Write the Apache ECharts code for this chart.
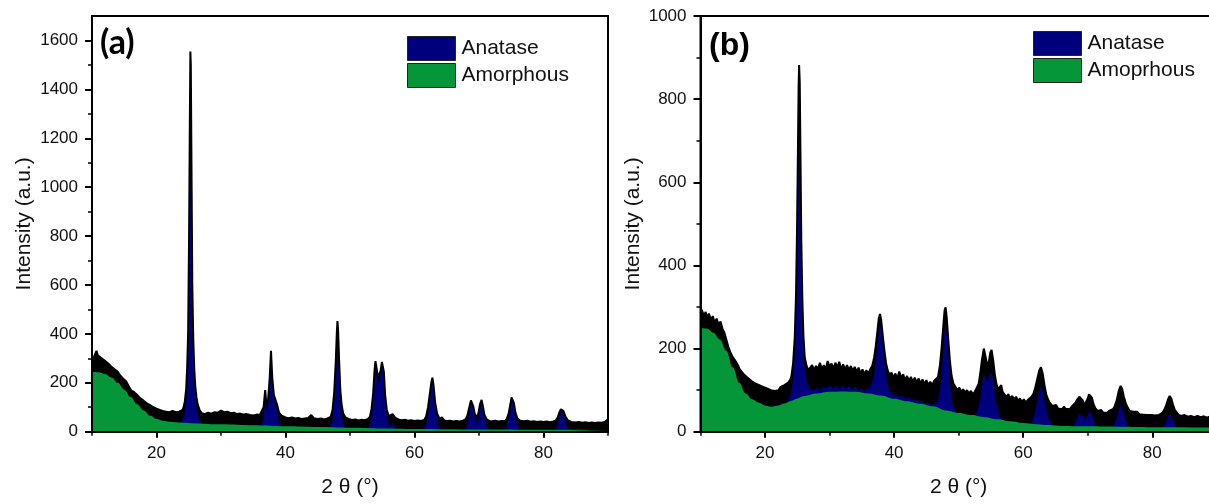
<!DOCTYPE html>
<html>
<head>
<meta charset="utf-8">
<title>XRD patterns</title>
<script src="https://cdn.jsdelivr.net/npm/echarts@6.0.0/dist/echarts.min.js"></script>
<style>
  html, body { margin: 0; padding: 0; background: #fff; }
  #chart { width: 1209px; height: 504px; }
</style>
</head>
<body>
<div id="chart"></div>
<script>
// ---------- Panel (a) ----------
// Measured pattern, [2θ (°), intensity]
const aObserved = [
  [10.0,296],[10.3,305],[10.5,318],[10.7,331],[10.9,312],[11.2,316],[11.5,300],[11.8,302],[12.0,290],[12.3,288],
  [12.5,279],[12.8,275],[13.0,266],[13.3,262],[13.5,255],[13.8,250],[14.0,245],[14.3,232],[14.5,225],[14.8,218],
  [15.0,211],[15.3,205],[15.5,198],[15.7,186],[15.9,177],[16.1,168],[16.3,170],[16.5,163],[16.8,155],[17.0,150],
  [17.3,142],[17.5,136],[17.8,132],[18.0,127],[18.3,120],[18.5,116],[18.8,112],[19.0,109],[19.3,103],[19.5,100],
  [19.8,97],[20.0,94],[20.3,90],[20.5,89],[20.8,86],[21.0,85],[21.3,83],[21.5,82],[21.8,80],[22.0,80],
  [22.3,84],[22.5,85],[22.8,79],[23.0,80],[23.3,83],[23.5,82],[23.8,84],[24.0,88],[24.2,100],[24.4,125],
  [24.6,175],[24.75,260],[24.9,400],[25.05,800],[25.15,1200],[25.25,1555],[25.32,1500],[25.42,1100],[25.55,600],[25.7,380],
  [25.85,260],[26.0,190],[26.2,140],[26.4,110],[26.7,88],[27.0,76],[27.5,72],[28.0,78],[28.5,74],[29.0,80],
  [29.5,78],[30.0,86],[30.5,80],[31.0,82],[31.5,76],[32.0,78],[32.5,72],[33.0,74],[33.5,70],[34.0,72],
  [34.5,68],[35.0,66],[35.5,70],[36.0,68],[36.3,75],[36.6,100],[36.85,170],[37.05,110],[37.3,130],[37.55,220],
  [37.75,331],[37.95,220],[38.2,150],[38.5,157],[38.7,110],[39.0,78],[39.4,66],[40.0,58],[40.5,55],[41.0,58],
  [41.5,54],[42.0,56],[42.5,52],[43.0,54],[43.5,56],[44.0,68],[44.4,55],[45.0,52],[45.5,54],[46.0,50],
  [46.5,54],[47.0,60],[47.3,90],[47.55,160],[47.8,290],[47.95,400],[48.05,452],[48.15,420],[48.3,300],[48.5,170],
  [48.7,110],[48.95,75],[49.3,58],[49.8,52],[50.3,48],[50.8,50],[51.3,46],[51.8,49],[52.3,47],[52.8,52],
  [53.1,62],[53.35,95],[53.6,160],[53.8,250],[53.95,289],[54.15,255],[54.35,220],[54.55,212],[54.75,250],[54.95,285],
  [55.08,293],[55.25,245],[55.45,150],[55.7,90],[56.0,64],[56.3,60],[56.6,72],[56.75,79],[57.0,58],[57.5,50],
  [58.0,47],[58.5,49],[59.0,45],[59.5,47],[60.0,44],[60.5,46],[61.0,44],[61.5,48],[61.8,62],[62.1,100],
  [62.4,160],[62.6,200],[62.78,221],[62.95,190],[63.2,120],[63.5,75],[63.9,52],[64.25,59],[64.6,46],[65.0,44],
  [65.5,45],[66.0,42],[66.5,44],[67.0,42],[67.5,45],[67.9,50],[68.2,66],[68.5,100],[68.75,128],[68.9,132],
  [69.1,105],[69.35,72],[69.65,60],[69.9,74],[70.15,112],[70.4,130],[70.6,105],[70.85,68],[71.2,50],[71.6,44],
  [72.0,43],[72.5,45],[73.0,42],[73.5,44],[74.0,43],[74.3,52],[74.6,75],[74.85,110],[75.05,140],[75.2,146],
  [75.4,118],[75.65,78],[75.95,55],[76.4,45],[77.0,43],[77.5,45],[78.0,41],[78.5,43],[79.0,40],[79.5,42],
  [80.0,40],[80.5,42],[81.0,39],[81.5,42],[81.9,46],[82.2,58],[82.45,78],[82.7,92],[82.85,95],[83.1,84],
  [83.4,62],[83.8,46],[84.3,40],[85.0,38],[85.5,40],[86.0,37],[86.5,39],[87.0,36],[87.5,38],[88.0,36],
  [88.5,38],[89.0,37],[89.5,40],[89.8,48],[90.0,51]
];
// Anatase reflections on top of the amorphous background (fit total), one group per reflection
const aAnatase = [
  [[23.7,34],[24.0,48],[24.3,70],[24.55,110],[24.75,200],[24.9,340],[25.05,700],[25.15,1100],[25.25,1490],[25.32,1440],
   [25.42,1050],[25.55,560],[25.7,330],[25.85,210],[26.05,130],[26.3,80],[26.6,50],[27.0,36],[27.4,31]],
  [[36.2,23],[36.55,50],[36.85,140],[37.05,85],[37.35,125],[37.6,240],[37.75,310],[37.9,240],[38.15,140],[38.45,140],
   [38.7,80],[39.0,38],[39.4,21]],
  [[46.9,17],[47.3,50],[47.6,140],[47.85,320],[48.05,430],[48.2,330],[48.45,150],[48.75,55],[49.2,16]],
  [[52.8,14],[53.3,48],[53.6,140],[53.85,260],[53.97,275],[54.2,225],[54.5,195],[54.8,240],[55.06,278],[55.3,200],
   [55.6,90],[55.9,40],[56.3,20],[56.7,40],[57.0,13]],
  [[61.5,10],[61.9,40],[62.3,110],[62.6,185],[62.78,207],[63.0,165],[63.3,80],[63.7,28],[64.1,10]],
  [[67.9,9],[68.3,42],[68.6,95],[68.88,124],[69.15,85],[69.5,35],[69.9,52],[70.2,102],[70.42,122],[70.7,80],
   [71.1,25],[71.6,9]],
  [[74.1,8],[74.5,42],[74.85,105],[75.18,138],[75.45,95],[75.8,38],[76.3,8]],
  [[81.8,8],[82.2,30],[82.55,68],[82.82,88],[83.1,70],[83.5,28],[84.0,7]]
];
// Amorphous background
const aAmorphous = [
  [10,245],[11,243],[12,236],[13,222],[14,200],[15,172],[16,142],[17,112],[18,87],[19,66],
  [20,52],[21,45],[22,41],[24,37],[26,34],[30,30],[35,26],[40,22],[45,19],[50,16],
  [55,13],[60,11],[70,9],[80,8],[90,7]
];

// ---------- Panel (b) ----------
const bObserved = [
  [10.0,285],[10.2,293],[10.5,280],[10.8,288],[11.0,275],[11.3,284],[11.6,270],[11.9,278],[12.2,262],[12.5,272],
  [12.8,258],[13.1,265],[13.4,248],[13.7,238],[14.0,222],[14.3,205],[14.6,192],[14.9,182],[15.2,178],[15.5,168],
  [15.8,160],[16.1,150],[16.4,146],[16.7,138],[17.0,135],[17.3,130],[17.6,126],[17.9,122],[18.2,125],[18.5,116],
  [18.8,118],[19.1,112],[19.4,116],[19.7,108],[20.0,110],[20.3,104],[20.6,106],[20.9,100],[21.2,104],[21.5,98],
  [21.8,102],[22.1,100],[22.4,108],[22.7,104],[23.0,112],[23.3,108],[23.6,118],[23.9,125],[24.1,135],[24.35,165],
  [24.6,225],[24.8,330],[24.95,480],[25.1,680],[25.2,830],[25.28,882],[25.38,840],[25.5,650],[25.62,460],[25.78,320],
  [25.95,230],[26.15,180],[26.4,160],[26.7,148],[27.0,152],[27.3,160],[27.6,148],[27.9,158],[28.2,150],[28.5,166],
  [28.8,152],[29.1,160],[29.4,150],[29.7,170],[30.0,156],[30.3,164],[30.6,152],[30.9,166],[31.2,154],[31.5,168],
  [31.8,150],[32.1,162],[32.4,150],[32.7,160],[33.0,148],[33.3,158],[33.6,146],[33.9,156],[34.2,144],[34.5,154],
  [34.8,140],[35.1,150],[35.4,138],[35.7,148],[36.0,140],[36.3,150],[36.6,158],[36.9,178],[37.15,205],[37.4,240],
  [37.62,272],[37.82,283],[38.0,268],[38.25,230],[38.5,195],[38.75,165],[39.0,148],[39.3,136],[39.6,142],[39.9,130],
  [40.2,140],[40.5,128],[40.8,145],[41.1,130],[41.4,138],[41.7,124],[42.0,134],[42.3,122],[42.6,132],[42.9,120],
  [43.2,130],[43.5,118],[43.8,128],[44.1,116],[44.4,126],[44.7,114],[45.0,124],[45.3,112],[45.6,120],[45.9,112],
  [46.2,122],[46.5,118],[46.8,132],[47.1,160],[47.35,200],[47.6,250],[47.82,292],[47.98,299],[48.15,275],[48.4,220],
  [48.65,170],[48.9,135],[49.2,115],[49.5,108],[49.8,100],[50.1,106],[50.4,96],[50.7,102],[51.0,94],[51.3,100],
  [51.6,92],[51.9,98],[52.2,90],[52.5,96],[52.8,100],[53.1,115],[53.35,140],[53.6,172],[53.9,200],[54.15,182],
  [54.45,158],[54.7,170],[54.9,190],[55.1,197],[55.35,172],[55.6,138],[55.85,115],[56.1,102],[56.4,98],[56.6,112],
  [56.8,96],[57.1,90],[57.4,84],[57.7,90],[58.0,80],[58.3,86],[58.6,78],[58.9,84],[59.2,74],[59.5,80],
  [59.8,72],[60.1,78],[60.4,70],[60.7,76],[61.0,78],[61.3,84],[61.6,92],[61.9,108],[62.2,128],[62.5,148],
  [62.75,155],[63.0,142],[63.3,112],[63.6,88],[63.9,76],[64.2,68],[64.5,62],[64.8,58],[65.1,64],[65.4,56],
  [65.7,60],[66.0,54],[66.3,60],[66.6,55],[66.9,58],[67.2,54],[67.5,60],[67.8,62],[68.1,70],[68.4,78],
  [68.7,84],[68.95,86],[69.2,76],[69.5,64],[69.75,66],[70.0,80],[70.2,90],[70.4,92],[70.65,82],[70.9,66],
  [71.2,56],[71.5,50],[71.8,48],[72.1,52],[72.4,46],[72.7,50],[73.0,45],[73.3,50],[73.6,46],[73.9,54],
  [74.2,62],[74.5,76],[74.8,98],[75.1,110],[75.35,102],[75.6,84],[75.9,68],[76.2,58],[76.5,50],[76.8,46],
  [77.1,48],[77.4,44],[77.7,48],[78.0,42],[78.3,46],[78.6,41],[78.9,45],[79.2,40],[79.5,44],[79.8,40],
  [80.1,43],[80.4,39],[80.7,43],[81.0,40],[81.3,44],[81.6,46],[81.9,54],[82.2,66],[82.45,78],[82.7,86],
  [82.95,80],[83.2,66],[83.5,52],[83.8,46],[84.1,40],[84.5,38],[85.0,40],[85.5,36],[86.0,38],[86.5,35],
  [87.0,38],[87.5,35],[88.0,37],[88.5,34],[89.0,37],[89.5,35],[90.0,36]
];
const bAnatase = [
  [[23.4,66],[23.8,82],[24.1,100],[24.4,135],[24.65,200],[24.85,320],[25.0,500],[25.15,720],[25.28,850],[25.4,760],
   [25.55,520],[25.72,330],[25.9,220],[26.15,150],[26.5,118],[27.0,104],[27.5,100],[28.0,106],[28.5,100],[29.0,108],
   [29.5,104],[30.0,112],[30.5,104],[31.0,110],[31.5,102],[32.0,112],[32.5,104],[33.0,110],[33.5,102],[34.0,108],
   [34.5,100],[35.0,104],[35.5,98],[36.0,104],[36.4,112],[36.8,130],[37.1,160],[37.4,205],[37.65,245],[37.82,258],
   [38.0,245],[38.3,195],[38.6,150],[38.9,118],[39.3,98],[39.8,90],[40.3,88],[40.8,84],[41.3,86],[41.8,80],
   [42.3,82],[42.8,76],[43.3,78],[43.8,72],[44.3,74],[44.8,68],[45.3,70],[45.8,64],[46.3,66],[46.8,75],
   [47.15,105],[47.45,160],[47.72,225],[47.95,262],[48.15,240],[48.4,175],[48.7,110],[49.0,72],[49.4,52],[49.8,44]],
  [[52.4,38],[52.9,50],[53.3,75],[53.6,108],[53.88,140],[54.15,132],[54.45,118],[54.75,135],[55.05,145],[55.35,120],
   [55.7,80],[56.1,50],[56.6,32],[57.0,26]],
  [[61.2,18],[61.7,38],[62.1,68],[62.45,98],[62.75,110],[63.05,96],[63.4,65],[63.85,35],[64.4,15]],
  [[67.8,13],[68.3,30],[68.65,44],[68.95,48],[69.3,36],[69.65,28],[70.05,42],[70.4,50],[70.8,34],[71.3,12]],
  [[73.9,12],[74.4,28],[74.8,52],[75.1,64],[75.4,54],[75.8,30],[76.3,11]],
  [[81.7,10],[82.15,24],[82.45,37],[82.7,44],[83.0,36],[83.4,20],[83.8,10]]
];
const bAmorphous = [
  [10,250],[11,248],[12,238],[13,222],[14,195],[15,155],[16,118],[17,92],[18,78],[19,70],
  [20,63],[21,60],[22,63],[23,68],[24,74],[25,80],[26,86],[28,92],[30,96],[32,97],
  [34,96],[36,92],[38,87],[40,79],[42,73],[44,67],[46,61],[48,51],[50,45],[52,40],
  [54,35],[56,30],[58,25],[60,21],[62,18],[64,16],[66,14],[70,13],[75,12],[80,11],[90,10]
];

// Axis ticks and labels
const xMajorTicks = [20, 40, 60, 80];
const xMinorTicks = [10, 30, 50, 70, 90];
const aYMajor = [0, 200, 400, 600, 800, 1000, 1200, 1400, 1600];
const aYMinor = [100, 300, 500, 700, 900, 1100, 1300, 1500];
const bYMajor = [0, 200, 400, 600, 800, 1000];
const bYMinor = [100, 300, 500, 700, 900];

const panelLabels = ['(a)', '(b)'];
const legendNames = [['Anatase', 'Amorphous'], ['Anatase', 'Amoprhous']];
const xTitle = '2 θ (°)';
const yTitle = 'Intensity (a.u.)';

const BLACK = '#000';
const NAVY = '#00007f';
const GREEN = '#05963a';
const FONT = '"Liberation Sans", Arial, sans-serif';

// Reflection groups are joined with gaps so each peak fills on its own
function joinGroups(groups) {
  const out = [];
  groups.forEach((g, i) => {
    if (i > 0) out.push([g[0][0], null]);
    g.forEach(p => out.push(p));
  });
  return out;
}

const plainNumber = v => String(v);

const grids = [
  { left: 92, top: 16, width: 516, height: 415.7 },
  { left: 700.5, top: 16, width: 516.3, height: 415.7 }
];

function xAxes(gi) {
  return [
    {
      gridIndex: gi, type: 'value', min: 10, max: 90, position: 'bottom', z: 5,
      axisLine: { show: true, onZero: false, lineStyle: { color: BLACK, width: 2 } },
      axisTick: { show: true, inside: false, length: 6, lineStyle: { color: BLACK, width: 2 }, customValues: xMajorTicks },
      axisLabel: { show: true, customValues: xMajorTicks, formatter: plainNumber, fontSize: 17, color: '#111', fontFamily: FONT, margin: 13 },
      splitLine: { show: false },
      name: xTitle, nameLocation: 'middle', nameGap: 45,
      nameTextStyle: { fontSize: 21, color: '#111', fontFamily: FONT }
    },
    {
      gridIndex: gi, type: 'value', min: 10, max: 90, position: 'bottom', z: 5,
      axisLine: { show: false, onZero: false },
      axisTick: { show: true, inside: false, length: 4, lineStyle: { color: BLACK, width: 1.5 }, customValues: xMinorTicks },
      axisLabel: { show: false },
      splitLine: { show: false }
    }
  ];
}

function yAxes(gi, max, major, minor) {
  return [
    {
      gridIndex: gi, type: 'value', min: 0, max: max, position: 'left', z: 5,
      axisLine: { show: true, onZero: false, lineStyle: { color: BLACK, width: 2 } },
      axisTick: { show: true, inside: false, length: 7, lineStyle: { color: BLACK, width: 2 }, customValues: major },
      axisLabel: { show: true, customValues: major, formatter: plainNumber, fontSize: 17, color: '#111', fontFamily: FONT, margin: 14 },
      splitLine: { show: false },
      name: yTitle, nameLocation: 'middle', nameGap: 57, nameRotate: 90,
      nameTextStyle: { fontSize: 21, color: '#111', fontFamily: FONT }
    },
    {
      gridIndex: gi, type: 'value', min: 0, max: max, position: 'left', z: 5,
      axisLine: { show: false, onZero: false },
      axisTick: { show: true, inside: false, length: 4, lineStyle: { color: BLACK, width: 1.5 }, customValues: minor },
      axisLabel: { show: false },
      splitLine: { show: false }
    }
  ];
}

function panelSeries(gi, observed, anatase, amorphous, names) {
  const xi = gi * 2, yi = gi * 2;
  const common = { type: 'line', xAxisIndex: xi, yAxisIndex: yi, showSymbol: false, symbol: 'none', silent: true, animation: false };
  return [
    // dark band under the measured curve
    Object.assign({}, common, {
      name: 'Observed', data: observed,
      lineStyle: { width: 0 }, itemStyle: { color: BLACK },
      areaStyle: { color: BLACK, opacity: 1 }
    }),
    Object.assign({}, common, {
      name: names[0], data: joinGroups(anatase), connectNulls: false,
      lineStyle: { width: 0 }, itemStyle: { color: NAVY },
      areaStyle: { color: NAVY, opacity: 1 }
    }),
    Object.assign({}, common, {
      name: names[1], data: amorphous, smooth: 0.4, smoothMonotone: 'x',
      lineStyle: { width: 0 }, itemStyle: { color: GREEN },
      areaStyle: { color: GREEN, opacity: 1 }
    }),
    // measured curve outline on top
    Object.assign({}, common, {
      name: 'Observed line', data: observed,
      lineStyle: { width: 2, color: BLACK }, itemStyle: { color: BLACK }
    })
  ];
}

const chart = echarts.init(document.getElementById('chart'), null, { renderer: 'canvas' });

chart.setOption({
  animation: false,
  backgroundColor: '#fff',
  grid: grids.map(g => Object.assign({
    show: true, borderColor: BLACK, borderWidth: 2, backgroundColor: 'transparent',
    containLabel: false, outerBoundsMode: 'none'
  }, g)),
  title: [
    { text: panelLabels[0], left: 100, top: 26, padding: 0,
      textStyle: { fontSize: 34, fontWeight: 'bold', fontFamily: 'Lato, "Open Sans", sans-serif', color: BLACK } },
    { text: panelLabels[1], left: 709, top: 30, padding: 0,
      textStyle: { fontSize: 32, fontWeight: 'bold', fontFamily: FONT, color: BLACK } }
  ],
  legend: [
    { data: legendNames[0], orient: 'vertical', left: 407, top: 36, padding: 0, itemGap: 2,
      itemWidth: 48, itemHeight: 24, icon: 'rect', selectedMode: false,
      itemStyle: { borderColor: '#222', borderWidth: 1 },
      textStyle: { fontSize: 21, color: '#111', fontFamily: FONT, padding: [0, 0, 0, 1] } },
    { data: legendNames[1], orient: 'vertical', left: 1033, top: 31, padding: 0, itemGap: 2,
      itemWidth: 48, itemHeight: 24, icon: 'rect', selectedMode: false,
      itemStyle: { borderColor: '#222', borderWidth: 1 },
      textStyle: { fontSize: 21, color: '#111', fontFamily: FONT, padding: [0, 0, 0, 1] } }
  ],
  xAxis: xAxes(0).concat(xAxes(1)),
  yAxis: yAxes(0, 1700, aYMajor, aYMinor).concat(yAxes(1, 1000, bYMajor, bYMinor)),
  series: panelSeries(0, aObserved, aAnatase, aAmorphous, legendNames[0])
    .concat(panelSeries(1, bObserved, bAnatase, bAmorphous, legendNames[1]))
});
</script>
</body>
</html>
